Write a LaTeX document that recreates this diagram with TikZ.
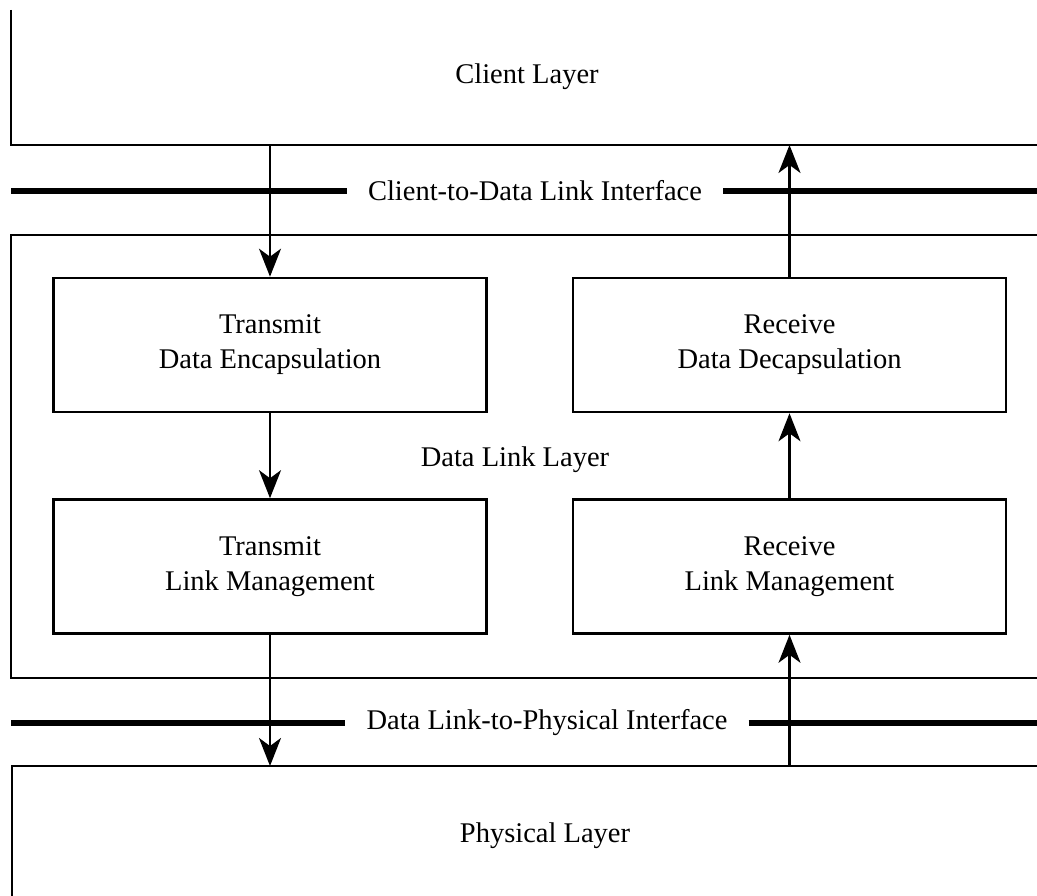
\documentclass[tikz,border=0pt]{standalone}
\usepackage{fontspec}
\setmainfont{Liberation Serif}
\usetikzlibrary{arrows.meta,positioning,calc}

\tikzset{
    block/.style={draw,line width=2.6pt,minimum width=433pt,minimum height=134pt,align=center,inner sep=0pt,font=\fontsize{28.5}{35}\selectfont},
    lbl/.style={inner sep=0pt,font=\fontsize{28.5}{35}\selectfont},
    iflbl/.style={inner xsep=21pt,inner ysep=0pt,font=\fontsize{28.5}{35}\selectfont},
    layer/.style={line width=2.6pt},
    iface/.style={line width=5.5pt},
    flow/.style={line width=2.2pt,-{Stealth[length=28pt,width=22pt,inset=8pt]}}
}

\begin{document}
\begin{tikzpicture}[x=1pt,y=-1pt]
        \useasboundingbox (0,0) rectangle (1037,896);
        % layers
        \coordinate (clientbase) at (0,145);
        \coordinate (phystop) at (0,766);
        \draw[layer] (11,10)--(11,145)--(1037,145);
        \draw[layer] (1037,235)--(11,235)--(11,678)--(1037,678);
        \draw[layer] (1037,766)--(12,766)--(12,896);
        \node[lbl] (client) at (527,77) {Client Layer};
        \node[lbl] (dll) at (515,460) {Data Link Layer};
        \node[lbl] (phys) at (545,836) {Physical Layer};
        % interfaces
        \node[iflbl] (cdi) at (535,191) {Client-to-Data Link Interface};
        \node[iflbl] (dpi) at (547,723) {Data Link-to-Physical Interface};
        \foreach \n/\y in {cdi/191,dpi/723}
            {
                \coordinate (\n L) at (11,\y);
                \coordinate (\n R) at (1037,\y);
                \draw[iface] (\n L)--(\n.west);
                \draw[iface] (\n.east)--(\n R);
            }
        % functions
        \node[block] (tde) at (270,345) {Transmit\\Data Encapsulation};
        \node[block] (tlm) at (270,566.5) {Transmit\\Link Management};
        \node[block] (rdd) at (789.5,345) {Receive\\Data Decapsulation};
        \node[block] (rlm) at (789.5,566.5) {Receive\\Link Management};
        % flows
        \draw[flow] (tde.north|-clientbase)--(tde.north);
        \draw[flow] (tde.south)--(tlm.north);
        \draw[flow] (tlm.south)--(tlm.south|-phystop);
        \draw[flow] (rlm.south|-phystop)--(rlm.south);
        \draw[flow] (rlm.north)--(rdd.south);
        \draw[flow] (rdd.north)--(rdd.north|-clientbase);
    \end{tikzpicture}
\end{document}
